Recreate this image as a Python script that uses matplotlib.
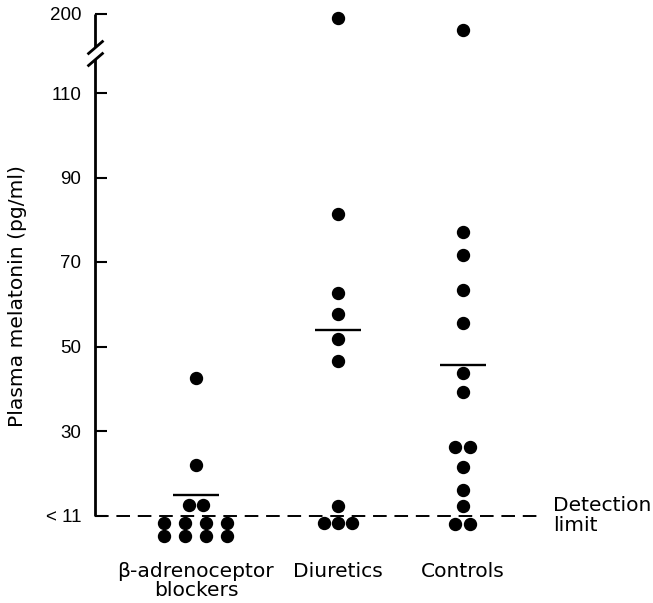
import numpy as np
import matplotlib
matplotlib.use("Agg")
import matplotlib.pyplot as plt
from matplotlib.path import Path
from matplotlib import transforms

# ---------------- data ----------------
groups = ["β-adrenoceptor\nblockers", "Diuretics", "Controls"]
beta_blockers = [42.5, 22.0, 12.5, 12.5, 8.2, 8.2, 8.2, 8.2, 5.1, 5.1, 5.1, 5.1]
diuretics = [195.0, 81.4, 62.6, 57.7, 51.8, 46.6, 12.3, 8.2, 8.2, 8.2]
controls = [180.5, 77.0, 71.6, 63.4, 55.6, 43.8, 39.3, 26.3, 26.3, 21.4, 16.0, 12.2, 8.0, 8.0]
group_means = [14.9, 53.9, 45.6]
detection_limit = 10
ytick_values = [10, 30, 50, 70, 90, 110, 200]
ytick_labels = ["< 11", "30", "50", "70", "90", "110", "200"]

# ---------------- layout / style ----------------
W, H, DPI = 653, 603, 100
group_x = [0.0, 1.0, 1.88]
below_spacing = [0.148, 0.10, 0.105]
above_spacing = 0.105
mean_half = 0.163
# broken axis knots (value -> axis coordinate)
knots_v = [0, 118, 160, 200, 300]
knots_t = [0, 118, 120.9, 128.7, 148.2]

TICK_FONT = ["Liberation Sans", "DejaVu Sans"]
WORD_FONT = ["DejaVu Sans"]
FS_TICK = 13.5
FS_WORD = 14.6
plt.rcParams["font.family"] = TICK_FONT


def fwd(v):
    return np.interp(v, knots_v, knots_t)


def inv(t):
    return np.interp(t, knots_t, knots_v)


fig = plt.figure(figsize=(W / DPI, H / DPI), dpi=DPI)
left_px, right_px = 95, 540
bottom_px, top_px = 549.3, 8.5
ax = fig.add_axes([left_px / W, 1 - bottom_px / H,
                   (right_px - left_px) / W, (bottom_px - top_px) / H])
ax.set_yscale("function", functions=(fwd, inv))
ax.set_ylim(inv(2), inv(130))
ax.set_xlim(-0.711, 2.423)

# dots
for gi, vals in enumerate([beta_blockers, diuretics, controls]):
    vals = np.asarray(vals, dtype=float)
    xs = np.zeros_like(vals)
    for u in np.unique(vals):
        idx = np.where(vals == u)[0]
        n = len(idx)
        sp = below_spacing[gi] if u < detection_limit else above_spacing
        xs[idx] = group_x[gi] + (np.arange(n) - (n - 1) / 2) * sp
    ax.plot(xs, vals, "o", ms=8.6, color="black", ls="none", clip_on=False)

# mean bars
gx = np.asarray(group_x)
ax.hlines(group_means, gx - mean_half, gx + mean_half, color="black", lw=1.7)

# detection limit line
ax.plot([ax.get_xlim()[0], ax.get_xlim()[1]], [detection_limit, detection_limit],
        color="black", lw=1.4, dashes=(7, 4), clip_on=False)
bt = transforms.blended_transform_factory(ax.transAxes, ax.transData)
ax.text(1.029, detection_limit, "Detection\nlimit", transform=bt,
        ha="left", va="center", fontsize=FS_WORD, family=WORD_FONT, linespacing=1.12)

# spines & broken y axis
for s in ax.spines.values():
    s.set_visible(False)
ax.plot([0, 0], [detection_limit, 118], color="black", lw=2.0, transform=bt, clip_on=False,
        solid_capstyle="butt")
ax.plot([0, 0], [160, 200], color="black", lw=2.0, transform=bt, clip_on=False,
        solid_capstyle="butt")
slash = Path([(-1, -0.86), (1, 0.86)], [Path.MOVETO, Path.LINETO])
ax.plot([0, 0], [118, 160], ls="none", marker=slash, ms=11.5, mew=2.0, color="black",
        transform=bt, clip_on=False)

ax.set_yticks(ytick_values)
ax.set_yticklabels(ytick_labels)
ax.yaxis.set_minor_locator(matplotlib.ticker.NullLocator())
ax.tick_params(axis="y", direction="in", length=8.5, width=1.5, pad=10, labelsize=FS_TICK)

ax.set_xticks(gx)
ax.set_xticklabels(groups, family=WORD_FONT, fontsize=FS_WORD, linespacing=1.0)
ax.tick_params(axis="x", length=0, pad=9)

fig.text(18 / W, 1 - 296 / H, "Plasma melatonin (pg/ml)", rotation=90,
         ha="center", va="center", fontsize=FS_WORD, family=WORD_FONT)

fig.savefig("out.png", dpi=DPI)
